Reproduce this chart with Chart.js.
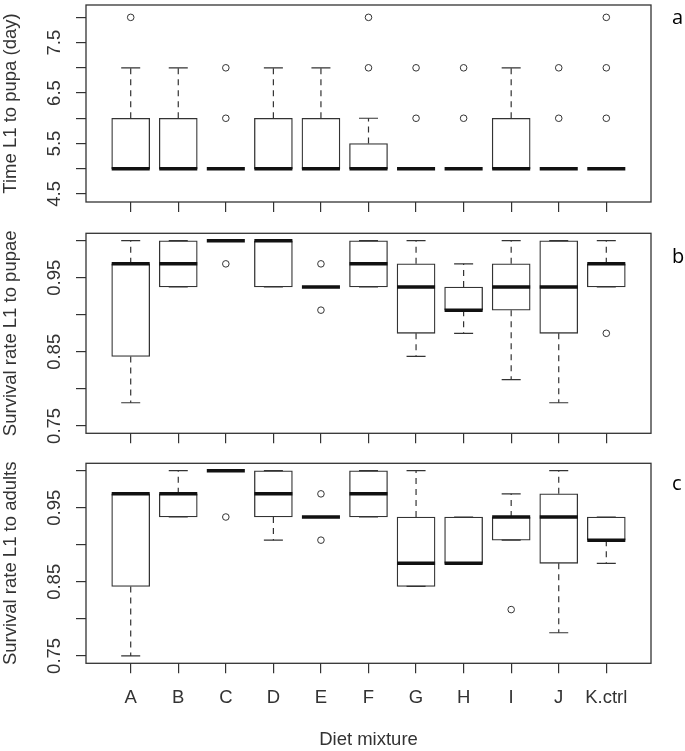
<!DOCTYPE html>
<html>
<head>
<meta charset="utf-8">
<script src="https://cdn.jsdelivr.net/npm/chart.js@4.4.1/dist/chart.umd.min.js"></script>
<style>
  html, body { margin: 0; padding: 0; background: #fff; }
  #wrap { position: relative; width: 685px; height: 751px; }
  canvas { position: absolute; left: 0; }
</style>
</head>
<body>
<div id="wrap">
  <canvas id="panelA" width="685" height="220" style="top:0px"></canvas>
  <canvas id="panelB" width="685" height="230" style="top:220px"></canvas>
  <canvas id="panelC" width="685" height="301" style="top:450px"></canvas>
</div>
<script>
// Diet groups (x axis)
const categories = ['A', 'B', 'C', 'D', 'E', 'F', 'G', 'H', 'I', 'J', 'K.ctrl'];

// a: time L1 to pupa (day) -- whisker ends, quartiles, medians, outliers
const loA  = [5, 5, 5, 5, 5, 5, 5, 5, 5, 5, 5];
const q1A  = [5, 5, 5, 5, 5, 5, 5, 5, 5, 5, 5];
const medA = [5, 5, 5, 5, 5, 5, 5, 5, 5, 5, 5];
const q3A  = [6, 6, 5, 6, 6, 5.5, 5, 5, 6, 5, 5];
const hiA  = [7, 7, 5, 7, 7, 6, 5, 5, 7, 5, 5];
const outA = [[8], [], [6, 7], [], [], [7, 8], [6, 7], [6, 7], [], [6, 7], [6, 7, 8]];

// b: survival rate L1 to pupae
const loB  = [0.78125, 0.9375, 1, 0.9375, 0.9375, 0.9375, 0.84375, 0.875, 0.8125, 0.78125, 0.9375];
const q1B  = [0.84375, 0.9375, 1, 0.9375, 0.9375, 0.9375, 0.875, 0.90625, 0.90625, 0.875, 0.9375];
const medB = [0.96875, 0.96875, 1, 1, 0.9375, 0.96875, 0.9375, 0.90625, 0.9375, 0.9375, 0.96875];
const q3B  = [0.96875, 1, 1, 1, 0.9375, 1, 0.96875, 0.9375, 0.96875, 1, 0.96875];
const hiB  = [1, 1, 1, 1, 0.9375, 1, 1, 0.96875, 1, 1, 1];
const outB = [[], [], [0.96875], [], [0.96875, 0.90625], [], [], [], [], [], [0.875]];

// c: survival rate L1 to adults
const loC  = [0.75, 0.9375, 1, 0.90625, 0.9375, 0.9375, 0.84375, 0.875, 0.90625, 0.78125, 0.875];
const q1C  = [0.84375, 0.9375, 1, 0.9375, 0.9375, 0.9375, 0.84375, 0.875, 0.90625, 0.875, 0.90625];
const medC = [0.96875, 0.96875, 1, 0.96875, 0.9375, 0.96875, 0.875, 0.875, 0.9375, 0.9375, 0.90625];
const q3C  = [0.96875, 0.96875, 1, 1, 0.9375, 1, 0.9375, 0.9375, 0.9375, 0.96875, 0.9375];
const hiC  = [0.96875, 1, 1, 1, 0.9375, 1, 1, 0.9375, 0.96875, 1, 0.9375];
const outC = [[], [], [0.9375], [], [0.96875, 0.90625], [], [], [], [0.8125], [], []];

// y ticks (R drops every other label)
const yTicksA  = [4.5, 5, 5.5, 6, 6.5, 7, 7.5, 8];
const yLabelsA = ['4.5', '', '5.5', '', '6.5', '', '7.5', ''];
const yTicksS  = [0.75, 0.8, 0.85, 0.9, 0.95, 1];
const yLabelsS = ['0.75', '', '0.85', '', '0.95', ''];

const FONT = '"Liberation Sans", Arial, sans-serif';
const INK = '#333';

// frame, rotated y labels and the panel letter
const panelDecor = {
  id: 'panelDecor',
  afterDatasetsDraw(chart, args, opts) {
    const { ctx, chartArea: a, scales } = chart;
    ctx.save();
    ctx.strokeStyle = INK;
    ctx.lineWidth = 1.3;
    ctx.strokeRect(a.left, a.top, a.right - a.left, a.bottom - a.top);

    ctx.fillStyle = INK;
    ctx.font = '18.5px ' + FONT;
    ctx.textAlign = 'center';
    ctx.textBaseline = 'alphabetic';
    opts.yLabels.forEach((lab, i) => {
      if (!lab) return;
      const y = scales.y.getPixelForValue(opts.yTicks[i]);
      ctx.save();
      ctx.translate(59.6, y);
      ctx.rotate(-Math.PI / 2);
      ctx.fillText(lab, 0, 0);
      ctx.restore();
    });

    ctx.fillStyle = '#000';
    ctx.font = '20px "Open Sans", sans-serif';
    ctx.textAlign = 'left';
    ctx.fillText(opts.letter, 672, opts.letterY);
    ctx.restore();
  }
};

function buildDatasets(lo, q1, med, q3, hi, out) {
  const boxes = [], whiskers = [], caps = [], medians = [], outliers = [];
  categories.forEach((c, i) => {
    const x = i + 1;
    boxes.push({ x, y: [q1[i], q3[i]] });
    whiskers.push({ x, y: q3[i] }, { x, y: hi[i] }, { x, y: null });
    whiskers.push({ x, y: q1[i] }, { x, y: lo[i] }, { x, y: null });
    caps.push({ x: x - 0.2, y: hi[i] }, { x: x + 0.2, y: hi[i] }, { x, y: null });
    caps.push({ x: x - 0.2, y: lo[i] }, { x: x + 0.2, y: lo[i] }, { x, y: null });
    medians.push({ x: x - 0.4, y: med[i] }, { x: x + 0.4, y: med[i] }, { x, y: null });
    out[i].forEach(v => outliers.push({ x, y: v }));
  });
  return [
    { type: 'line', data: medians, borderColor: '#111', borderWidth: 3.5, pointRadius: 0, order: 0 },
    { type: 'line', data: caps, borderColor: INK, borderWidth: 1.2, pointRadius: 0, order: 1 },
    { type: 'line', data: whiskers, borderColor: INK, borderWidth: 1.2, borderDash: [6, 5], pointRadius: 0, order: 2 },
    { type: 'scatter', data: outliers, pointStyle: 'circle', pointRadius: 3.3, borderColor: INK,
      borderWidth: 1, backgroundColor: '#fff', order: 3 },
    { type: 'bar', data: boxes, backgroundColor: '#fff', borderColor: INK, borderWidth: 1.3,
      borderSkipped: false, barThickness: 38, order: 4 }
  ];
}

function makePanel(id, p) {
  const showX = !!p.showX;
  return new Chart(document.getElementById(id), {
    type: 'bar',
    data: { datasets: buildDatasets(p.lo, p.q1, p.med, p.q3, p.hi, p.out) },
    options: {
      responsive: false,
      animation: false,
      layout: { padding: { top: p.top, right: 34, left: 0, bottom: 0 } },
      plugins: {
        legend: { display: false },
        tooltip: { enabled: false },
        panelDecor: { yTicks: p.yTicks, yLabels: p.yLabels, letter: p.letter, letterY: p.letterY }
      },
      scales: {
        x: {
          type: 'linear', min: 0.06, max: 11.94, offset: false,
          afterBuildTicks: s => { s.ticks = categories.map((c, i) => ({ value: i + 1 })); },
          afterFit: s => { s.height = p.xHeight; },
          grid: { drawOnChartArea: false, tickLength: 10, color: INK, lineWidth: 1.2, offset: false },
          border: { display: false },
          ticks: {
            display: showX, autoSkip: false, maxRotation: 0, padding: 14, color: INK,
            font: { family: FONT, size: 18.5 },
            callback: v => categories[v - 1]
          },
          title: { display: showX, text: 'Diet mixture', color: INK,
            font: { family: FONT, size: 18.5 }, padding: { top: 0, bottom: 0 } }
        },
        y: {
          min: p.min, max: p.max,
          afterBuildTicks: s => { s.ticks = p.yTicks.map(v => ({ value: v })); },
          afterFit: s => { s.width = 86; },
          grid: { drawOnChartArea: false, tickLength: 10, color: INK, lineWidth: 1.2 },
          border: { display: false },
          ticks: { display: false },
          title: { display: true, text: p.title, color: INK,
            font: { family: FONT, size: 18.5 }, padding: { top: 0, bottom: 0 } }
        }
      }
    },
    plugins: [panelDecor]
  });
}

makePanel('panelA', {
  lo: loA, q1: q1A, med: medA, q3: q3A, hi: hiA, out: outA,
  min: 4.34, max: 8.245, yTicks: yTicksA, yLabels: yLabelsA,
  title: 'Time L1 to pupa (day)', letter: 'a', letterY: 24, top: 2, xHeight: 18
});
makePanel('panelB', {
  lo: loB, q1: q1B, med: medB, q3: q3B, hi: hiB, out: outB,
  min: 0.74, max: 1.01, yTicks: yTicksS, yLabels: yLabelsS,
  title: 'Survival rate L1 to pupae', letter: 'b', letterY: 43.3, top: 13.3, xHeight: 16.7
});
makePanel('panelC', {
  lo: loC, q1: q1C, med: medC, q3: q3C, hi: hiC, out: outC,
  min: 0.74, max: 1.01, yTicks: yTicksS, yLabels: yLabelsS,
  title: 'Survival rate L1 to adults', letter: 'c', letterY: 40, top: 13.3, xHeight: 87.7,
  showX: true
});
</script>
</body>
</html>
